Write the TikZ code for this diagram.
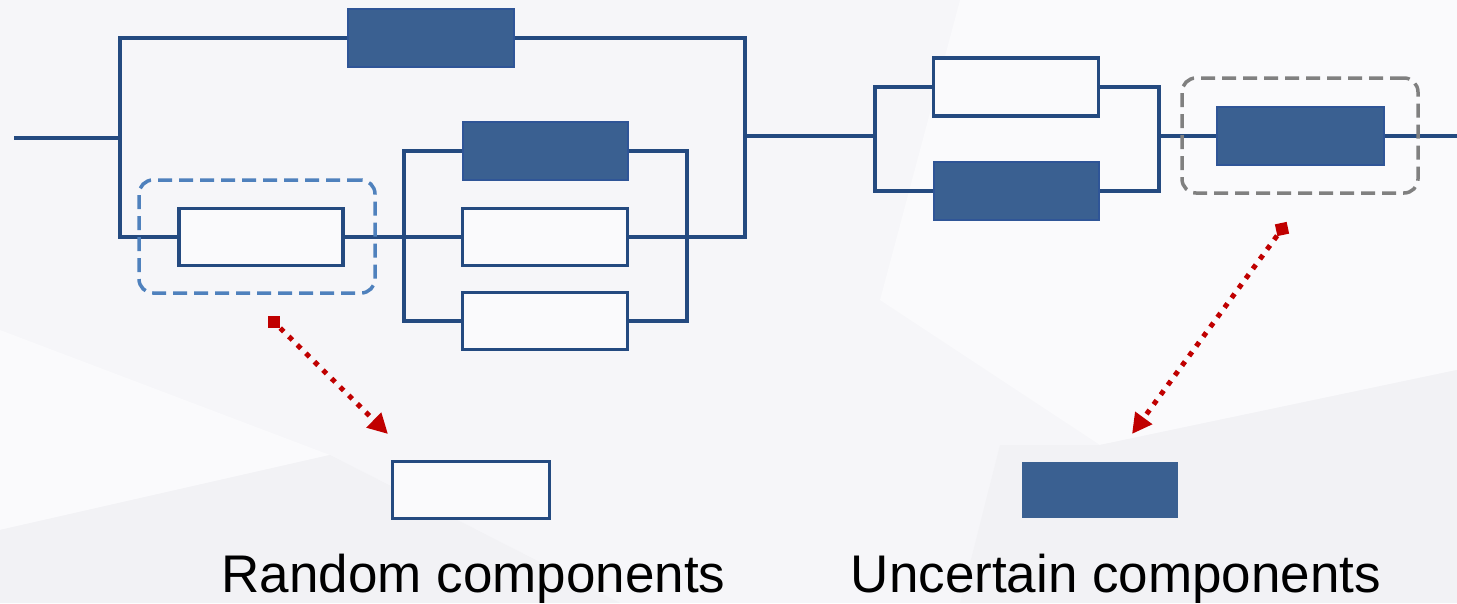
\documentclass[tikz,border=0pt]{standalone}
\usepackage{fontspec}
\setmainfont{Liberation Sans}
\usetikzlibrary{arrows.meta}

\definecolor{wire}{RGB}{36,74,128}
\definecolor{boxfill}{RGB}{58,96,145}
\definecolor{boxedge}{RGB}{47,85,151}
\definecolor{selblue}{RGB}{79,129,189}
\definecolor{selgray}{RGB}{128,128,128}
\definecolor{pointer}{RGB}{192,0,0}
\definecolor{paper}{RGB}{246,246,249}
\definecolor{paperlight}{RGB}{250,250,252}
\definecolor{paperdark}{RGB}{242,242,245}

\tikzset{
  wireline/.style={draw=wire, line width=3.5pt, line join=miter},
  comp/.style={rectangle, inner sep=0pt, minimum width=#1, minimum height=58pt},
  comp/.default=165pt,
  randbox/.style={comp=#1, draw=wire, line width=3.5pt, fill=paperlight},
  randbox/.default=165pt,
  uncbox/.style={comp=#1, draw=boxedge, line width=2pt, fill=boxfill},
  uncbox/.default=165pt,
  selbox/.style={rectangle, rounded corners=14pt, inner sep=0pt,
    line width=3.5pt, dash pattern=on 14pt off 7pt,
    minimum width=236pt, minimum height=113pt},
  sqmark/.style={rectangle, fill=pointer, inner sep=0pt, minimum size=12pt},
  dotarrow/.style={draw=pointer, line width=5pt, dash pattern=on 5pt off 7pt,
    -{Triangle[length=20pt, width=20pt]}},
  caption/.style={anchor=base, text=black, inner sep=0pt,
    font=\fontsize{53}{60}\selectfont},
}

\begin{document}
\begin{tikzpicture}[x=1pt, y=-1pt]
  % page background with faint facets
  \fill[paper] (0,0) rectangle (1457,603);
  \useasboundingbox (0,0) rectangle (1457,603);
  \fill[paperlight] (960,0) -- (1457,0) -- (1457,370) -- (1100,445) -- (880,300) -- cycle;
  \fill[paperlight] (0,330) -- (330,455) -- (0,530) -- cycle;
  \fill[paperdark] (0,530) -- (330,455) -- (620,603) -- (0,603) -- cycle;
  \fill[paperdark] (1000,445) -- (1100,445) -- (1457,370) -- (1457,603) -- (960,603) -- cycle;

  % ---- components of the first parallel block ----
  \node[uncbox=166pt] (A) at (431,38) {};
  \node[randbox=164pt, minimum height=57pt] (B) at (261,237) {};
  \node[uncbox] (C) at (545,151) {};
  \node[randbox, minimum height=57pt] (D) at (545,237) {};
  \node[randbox, minimum height=57pt] (E) at (545,321) {};

  % ---- components of the second block ----
  \node[randbox] (F) at (1016,87) {};
  \node[uncbox] (G) at (1016,191) {};
  \node[uncbox=167pt] (H) at (1300,136) {};

  % bus corners
  \coordinate (in)  at (14,138);
  \coordinate (a0)  at (120,138);
  \coordinate (a1)  at (120,38);
  \coordinate (a2)  at (120,237);
  \coordinate (a3)  at (745,38);
  \coordinate (a4)  at (745,237);
  \coordinate (am)  at (745,136);
  \coordinate (b1)  at (404,151);
  \coordinate (b2)  at (404,321);
  \coordinate (c1)  at (687,151);
  \coordinate (c2)  at (687,321);
  \coordinate (d0)  at (875,136);
  \coordinate (d1)  at (875,87);
  \coordinate (d2)  at (875,191);
  \coordinate (e1)  at (1159,87);
  \coordinate (e2)  at (1159,191);
  \coordinate (em)  at (1159,136);
  \coordinate (out) at (1457,136);

  % wiring of the first block
  \draw[wireline] (in) -- (a0);
  \draw[wireline] (A.west) -- (a1) -- (a2) -- (B.west);
  \draw[wireline] (A.east) -- (a3) -- (a4) -- (D.east);
  \draw[wireline] (B.east) -- (D.west);
  \draw[wireline] (C.west) -- (b1) -- (b2) -- (E.west);
  \draw[wireline] (C.east) -- (c1) -- (c2) -- (E.east);
  % link between blocks
  \draw[wireline] (am) -- (d0);
  % wiring of the second block
  \draw[wireline] (F.west) -- (d1) -- (d2) -- (G.west);
  \draw[wireline] (F.east) -- (e1) -- (e2) -- (G.east);
  \draw[wireline] (em) -- (H.west);
  \draw[wireline] (H.east) -- (out);

  % highlight frames
  \node[selbox, draw=selblue] (selR) at (257,236.5) {};
  \node[selbox, draw=selgray, minimum height=115pt] (selU) at (1300,135.5) {};

  % legend boxes
  \node[randbox=157pt, minimum height=57pt] (legR) at (471,490) {};
  \node[comp=156pt, minimum height=56pt, fill=boxfill] (legU) at (1100,490) {};

  % pointers
  \node[sqmark] (p1) at (274,322) {};
  \node[sqmark, rotate=12] (p2) at (1282,229) {};
  \coordinate (t1) at (388,434);
  \coordinate (t2) at (1132,434);
  \draw[dotarrow] (p1) -- (t1);
  \draw[dotarrow] (p2) -- (t2);

  % captions
  \node[caption] (capR) at (473.5,592) {Random components};
  \node[caption] (capU) at (1116,592) {Uncertain components};
\end{tikzpicture}
\end{document}
